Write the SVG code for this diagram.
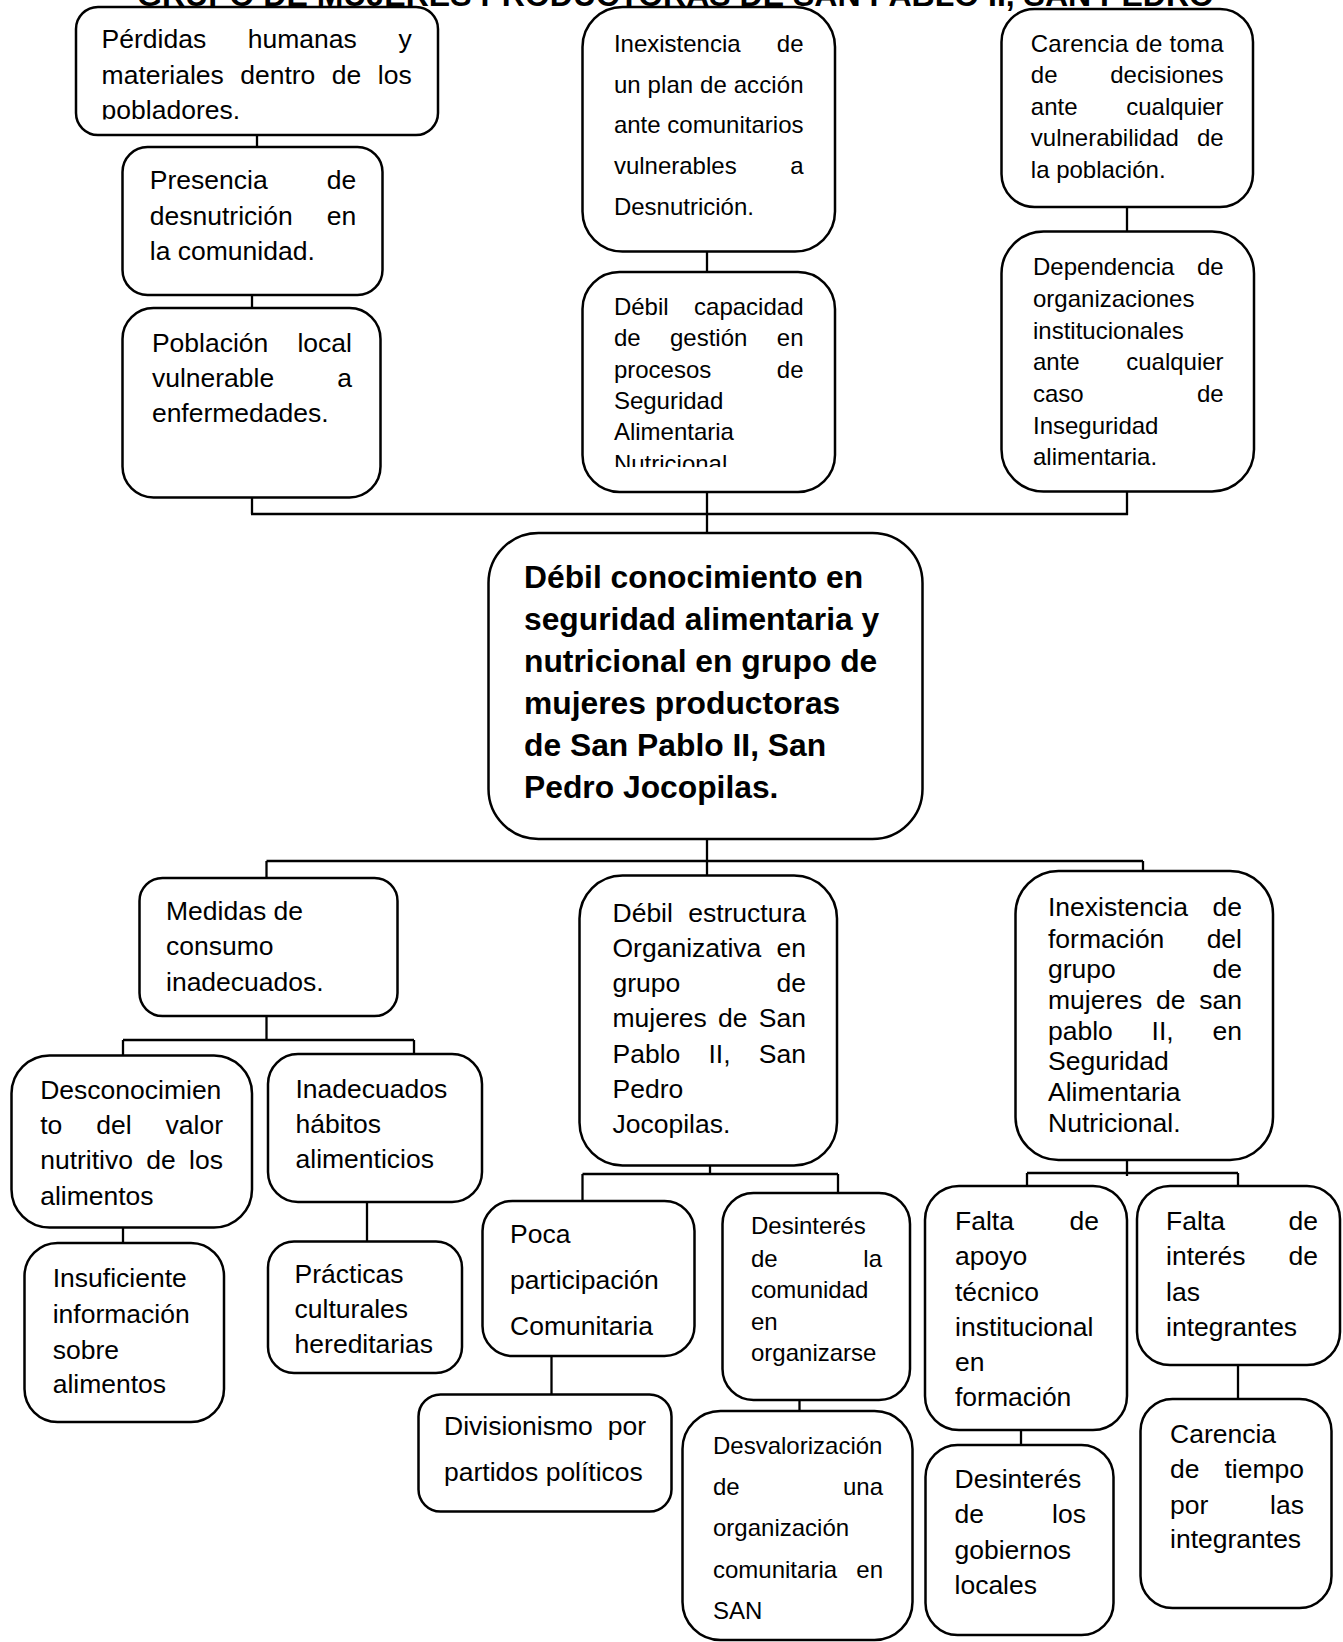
<svg xmlns="http://www.w3.org/2000/svg" width="1343" height="1642" viewBox="0 0 1343 1642">
<style>
.box{fill:#fff;stroke:#000;stroke-width:2.5}
.cn line{stroke:#000;stroke-width:2.3;fill:none}
text{font-family:'Liberation Sans',Arial,sans-serif;fill:#000}
.t{font-size:26.5px}
.s{font-size:24px}
.b{font-size:31.8px;font-weight:bold}
.e{text-anchor:end}
</style>
<defs>
<clipPath id="clipA1"><rect x="70" y="0" width="380" height="119.5"/></clipPath>
<clipPath id="clipB2"><rect x="580" y="270" width="260" height="197"/></clipPath>
</defs>
<rect width="1343" height="1642" fill="#fff"/>
<g id="title"><text class="b" x="137" y="6" textLength="1077" lengthAdjust="spacingAndGlyphs">GRUPO DE MUJERES PRODUCTORAS DE SAN PABLO II, SAN PEDRO</text></g>

<g class="cn" id="connectors">
<line x1="257" y1="135" x2="257" y2="147"/>
<line x1="252" y1="295" x2="252" y2="308"/>
<line x1="252" y1="497" x2="252" y2="514"/>
<line x1="251" y1="514" x2="1128" y2="514"/>
<line x1="707" y1="251" x2="707" y2="272"/>
<line x1="707" y1="492" x2="707" y2="533"/>
<line x1="1127" y1="207" x2="1127" y2="231.5"/>
<line x1="1127" y1="491" x2="1127" y2="515"/>
<line x1="707" y1="839" x2="707" y2="876"/>
<line x1="266.5" y1="861" x2="1143" y2="861"/>
<line x1="266.5" y1="861" x2="266.5" y2="878"/>
<line x1="1143" y1="861" x2="1143" y2="871"/>
<line x1="266.5" y1="1016" x2="266.5" y2="1040"/>
<line x1="123" y1="1040" x2="414" y2="1040"/>
<line x1="123" y1="1040" x2="123" y2="1055.5"/>
<line x1="414" y1="1040" x2="414" y2="1054"/>
<line x1="123" y1="1228" x2="123" y2="1243"/>
<line x1="367" y1="1202" x2="367" y2="1241.5"/>
<line x1="710" y1="1165.5" x2="710" y2="1174"/>
<line x1="582.5" y1="1174" x2="838" y2="1174"/>
<line x1="582.5" y1="1174" x2="582.5" y2="1201"/>
<line x1="838" y1="1174" x2="838" y2="1193"/>
<line x1="551.5" y1="1356" x2="551.5" y2="1394.5"/>
<line x1="799.5" y1="1400" x2="799.5" y2="1415"/>
<line x1="1127" y1="1160" x2="1127" y2="1176"/>
<line x1="1027" y1="1173" x2="1238" y2="1173"/>
<line x1="1027" y1="1173" x2="1027" y2="1186"/>
<line x1="1238" y1="1173" x2="1238" y2="1186"/>
<line x1="1021" y1="1430" x2="1021" y2="1445"/>
<line x1="1238" y1="1365" x2="1238" y2="1399"/>
</g>

<g id="A1">
<rect class="box" x="76" y="7" width="362" height="128" rx="22"/>
<g clip-path="url(#clipA1)">
<text class="t" y="48"><tspan x="101.6">Pérdidas</tspan><tspan x="247.8">humanas</tspan><tspan x="411.7" text-anchor="end">y</tspan></text>
<text class="t" y="83.5"><tspan x="101.6">materiales</tspan><tspan x="240.2">dentro</tspan><tspan x="331.7">de</tspan><tspan x="411.7" text-anchor="end">los</tspan></text>
<text class="t" x="101.6" y="119">pobladores.</text>
</g>
</g>

<g id="A2">
<rect class="box" x="122.5" y="147" width="260" height="148" rx="25"/>
<text class="t" y="189"><tspan x="149.8">Presencia</tspan><tspan x="356.2" text-anchor="end">de</tspan></text>
<text class="t" y="225"><tspan x="149.8">desnutrición</tspan><tspan x="356.2" text-anchor="end">en</tspan></text>
<text class="t" x="149.8" y="259.5">la comunidad.</text>
</g>

<g id="A3">
<rect class="box" x="122.5" y="308" width="258" height="189.5" rx="31"/>
<text class="t" y="351.5"><tspan x="151.9">Población</tspan><tspan x="352" text-anchor="end">local</tspan></text>
<text class="t" y="387"><tspan x="151.9">vulnerable</tspan><tspan x="352" text-anchor="end">a</tspan></text>
<text class="t" x="151.9" y="422">enfermedades.</text>
</g>

<g id="B1">
<rect class="box" x="582.5" y="7" width="252.5" height="244.5" rx="40"/>
<text class="s" y="51.5"><tspan x="613.9">Inexistencia</tspan><tspan x="803.5" text-anchor="end">de</tspan></text>
<text class="s" x="613.9" y="92.5" textLength="189.6" lengthAdjust="spacing">un plan de acción</text>
<text class="s" x="613.9" y="133" textLength="189.6" lengthAdjust="spacing">ante comunitarios</text>
<text class="s" y="174"><tspan x="613.9">vulnerables</tspan><tspan x="803.5" text-anchor="end">a</tspan></text>
<text class="s" x="613.9" y="215">Desnutrición.</text>
</g>

<g id="B2">
<rect class="box" x="582.5" y="272" width="252.5" height="220" rx="37"/>
<g clip-path="url(#clipB2)">
<text class="s" y="314.5"><tspan x="613.9">Débil</tspan><tspan x="803.5" text-anchor="end">capacidad</tspan></text>
<text class="s" y="346"><tspan x="613.9">de</tspan><tspan x="670">gestión</tspan><tspan x="803.5" text-anchor="end">en</tspan></text>
<text class="s" y="377.5"><tspan x="613.9">procesos</tspan><tspan x="803.5" text-anchor="end">de</tspan></text>
<text class="s" x="613.9" y="409">Seguridad</text>
<text class="s" x="613.9" y="440">Alimentaria</text>
<text class="s" x="613.9" y="471.5">Nutricional</text>
</g>
</g>

<g id="C1">
<rect class="box" x="1001.5" y="9" width="251.5" height="198" rx="33"/>
<text class="s" x="1030.8" y="51.5" textLength="192.8" lengthAdjust="spacing">Carencia de toma</text>
<text class="s" y="83"><tspan x="1030.8">de</tspan><tspan x="1223.6" text-anchor="end">decisiones</tspan></text>
<text class="s" y="114.5"><tspan x="1030.8">ante</tspan><tspan x="1223.6" text-anchor="end">cualquier</tspan></text>
<text class="s" y="146"><tspan x="1030.8">vulnerabilidad</tspan><tspan x="1223.6" text-anchor="end">de</tspan></text>
<text class="s" x="1030.8" y="177.5">la población.</text>
</g>

<g id="C2">
<rect class="box" x="1001.5" y="231.5" width="252.5" height="260" rx="42"/>
<text class="s" y="275"><tspan x="1033">Dependencia</tspan><tspan x="1223.6" text-anchor="end">de</tspan></text>
<text class="s" x="1033" y="306.5">organizaciones</text>
<text class="s" x="1033" y="338.5">institucionales</text>
<text class="s" y="370"><tspan x="1033">ante</tspan><tspan x="1223.6" text-anchor="end">cualquier</tspan></text>
<text class="s" y="401.5"><tspan x="1033">caso</tspan><tspan x="1223.6" text-anchor="end">de</tspan></text>
<text class="s" x="1033" y="434">Inseguridad</text>
<text class="s" x="1033" y="465">alimentaria.</text>
</g>

<g id="center">
<rect class="box" x="488.5" y="533" width="434" height="306" rx="50"/>
<text class="b" x="524" y="588">Débil conocimiento en</text>
<text class="b" x="524" y="630">seguridad alimentaria y</text>
<text class="b" x="524" y="672">nutricional en grupo de</text>
<text class="b" x="524" y="714">mujeres productoras</text>
<text class="b" x="524" y="756">de San Pablo II, San</text>
<text class="b" x="524" y="798">Pedro Jocopilas.</text>
</g>

<g id="D1">
<rect class="box" x="139.5" y="878" width="258" height="138" rx="23"/>
<text class="t" x="166" y="919.5">Medidas de</text>
<text class="t" x="166" y="955">consumo</text>
<text class="t" x="166" y="990.5">inadecuados.</text>
</g>

<g id="D2a">
<rect class="box" x="11.5" y="1055.5" width="240.5" height="172" rx="38"/>
<text class="t" x="40.2" y="1098.5">Desconocimien</text>
<text class="t" y="1134"><tspan x="40.2">to</tspan><tspan x="96.3">del</tspan><tspan x="223" text-anchor="end">valor</tspan></text>
<text class="t" y="1168.5"><tspan x="40.2">nutritivo</tspan><tspan x="146.3">de</tspan><tspan x="223" text-anchor="end">los</tspan></text>
<text class="t" x="40.2" y="1204.5">alimentos</text>
</g>

<g id="D2b">
<rect class="box" x="268" y="1054" width="214" height="148" rx="30"/>
<text class="t" x="295.5" y="1097.5">Inadecuados</text>
<text class="t" x="295.5" y="1133">hábitos</text>
<text class="t" x="295.5" y="1167.5">alimenticios</text>
</g>

<g id="D3a">
<rect class="box" x="24.5" y="1243" width="199.5" height="179" rx="33"/>
<text class="t" x="52.7" y="1287">Insuficiente</text>
<text class="t" x="52.7" y="1322.5">información</text>
<text class="t" x="52.7" y="1358.5">sobre</text>
<text class="t" x="52.7" y="1393">alimentos</text>
</g>

<g id="D3b">
<rect class="box" x="268" y="1241.5" width="194" height="131.5" rx="26"/>
<text class="t" x="294.6" y="1283">Prácticas</text>
<text class="t" x="294.6" y="1317.5">culturales</text>
<text class="t" x="294.6" y="1353">hereditarias</text>
</g>

<g id="E1">
<rect class="box" x="579.5" y="875.5" width="257.5" height="290" rx="43"/>
<text class="t" y="921.5"><tspan x="612.5">Débil</tspan><tspan x="806" text-anchor="end">estructura</tspan></text>
<text class="t" y="957"><tspan x="612.5">Organizativa</tspan><tspan x="806" text-anchor="end">en</tspan></text>
<text class="t" y="991.5"><tspan x="612.5">grupo</tspan><tspan x="806" text-anchor="end">de</tspan></text>
<text class="t" y="1027"><tspan x="612.5">mujeres</tspan><tspan x="718">de</tspan><tspan x="806" text-anchor="end">San</tspan></text>
<text class="t" y="1063"><tspan x="612.5">Pablo</tspan><tspan x="708.5">II,</tspan><tspan x="806" text-anchor="end">San</tspan></text>
<text class="t" x="612.5" y="1097.5">Pedro</text>
<text class="t" x="612.5" y="1133">Jocopilas.</text>
</g>

<g id="E2a">
<rect class="box" x="482.5" y="1201" width="212" height="155" rx="30"/>
<text class="t" x="510" y="1243">Poca</text>
<text class="t" x="510" y="1289">participación</text>
<text class="t" x="510" y="1334.5">Comunitaria</text>
</g>

<g id="E3a">
<rect class="box" x="418.5" y="1394.5" width="253" height="117" rx="22"/>
<text class="t" y="1435"><tspan x="444">Divisionismo</tspan><tspan x="646" text-anchor="end">por</tspan></text>
<text class="t" x="444" y="1481">partidos políticos</text>
</g>

<g id="E2b">
<rect class="box" x="722.5" y="1193" width="187.5" height="207" rx="31"/>
<text class="s" x="751" y="1234">Desinterés</text>
<text class="s" y="1266.5"><tspan x="751">de</tspan><tspan x="882" text-anchor="end">la</tspan></text>
<text class="s" x="751" y="1298">comunidad</text>
<text class="s" x="751" y="1329.5">en</text>
<text class="s" x="751" y="1361">organizarse</text>
</g>

<g id="E3b">
<rect class="box" x="682.5" y="1411" width="230" height="229" rx="38"/>
<text class="s" x="713" y="1454">Desvalorización</text>
<text class="s" y="1495"><tspan x="713">de</tspan><tspan x="883" text-anchor="end">una</tspan></text>
<text class="s" x="713" y="1536">organización</text>
<text class="s" y="1578"><tspan x="713">comunitaria</tspan><tspan x="883" text-anchor="end">en</tspan></text>
<text class="s" x="713" y="1619">SAN</text>
</g>

<g id="F1">
<rect class="box" x="1015.5" y="871" width="257.5" height="289" rx="43"/>
<text class="t" y="916"><tspan x="1048">Inexistencia</tspan><tspan x="1242" text-anchor="end">de</tspan></text>
<text class="t" y="947.5"><tspan x="1048">formación</tspan><tspan x="1242" text-anchor="end">del</tspan></text>
<text class="t" y="978"><tspan x="1048">grupo</tspan><tspan x="1242" text-anchor="end">de</tspan></text>
<text class="t" y="1008.5"><tspan x="1048">mujeres</tspan><tspan x="1156">de</tspan><tspan x="1242" text-anchor="end">san</tspan></text>
<text class="t" y="1040"><tspan x="1048">pablo</tspan><tspan x="1151.6">II,</tspan><tspan x="1242" text-anchor="end">en</tspan></text>
<text class="t" x="1048" y="1070">Seguridad</text>
<text class="t" x="1048" y="1100.5">Alimentaria</text>
<text class="t" x="1048" y="1132">Nutricional.</text>
</g>

<g id="F2a">
<rect class="box" x="925" y="1186" width="202" height="244" rx="34"/>
<text class="t" y="1229.5"><tspan x="955">Falta</tspan><tspan x="1099" text-anchor="end">de</tspan></text>
<text class="t" x="955" y="1265">apoyo</text>
<text class="t" x="955" y="1300.5">técnico</text>
<text class="t" x="955" y="1335.5">institucional</text>
<text class="t" x="955" y="1371">en</text>
<text class="t" x="955" y="1405.5">formación</text>
</g>

<g id="F3a">
<rect class="box" x="925.5" y="1445" width="188" height="190" rx="32"/>
<text class="t" x="954.5" y="1488">Desinterés</text>
<text class="t" y="1523"><tspan x="954.5">de</tspan><tspan x="1086" text-anchor="end">los</tspan></text>
<text class="t" x="954.5" y="1558.5">gobiernos</text>
<text class="t" x="954.5" y="1594">locales</text>
</g>

<g id="F2b">
<rect class="box" x="1137" y="1186" width="203" height="179" rx="33"/>
<text class="t" y="1229.5"><tspan x="1166">Falta</tspan><tspan x="1318" text-anchor="end">de</tspan></text>
<text class="t" y="1265"><tspan x="1166">interés</tspan><tspan x="1318" text-anchor="end">de</tspan></text>
<text class="t" x="1166" y="1300.5">las</text>
<text class="t" x="1166" y="1335.5">integrantes</text>
</g>

<g id="F3b">
<rect class="box" x="1140.5" y="1399" width="191" height="209" rx="32"/>
<text class="t" x="1170" y="1443">Carencia</text>
<text class="t" y="1478"><tspan x="1170">de</tspan><tspan x="1304" text-anchor="end">tiempo</tspan></text>
<text class="t" y="1513.5"><tspan x="1170">por</tspan><tspan x="1304" text-anchor="end">las</tspan></text>
<text class="t" x="1170" y="1548">integrantes</text>
</g>
</svg>
